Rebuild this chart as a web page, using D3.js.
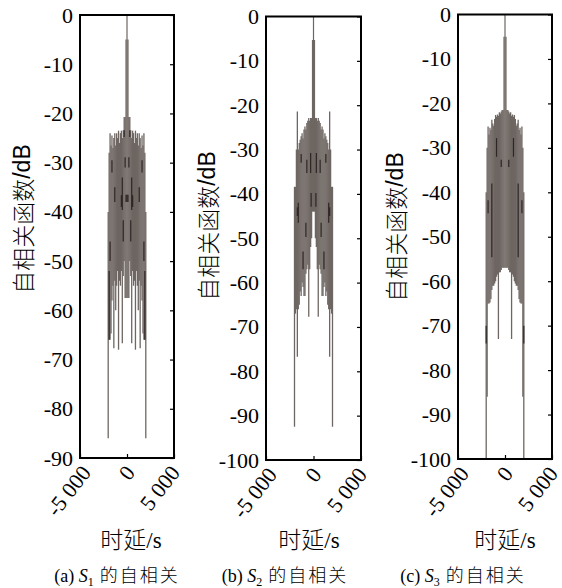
<!DOCTYPE html>
<html><head><meta charset="utf-8">
<script src="https://cdn.jsdelivr.net/npm/d3@7"></script>
<style>body{margin:0;background:#fff}</style></head><body>
<svg id="c" width="562" height="588"></svg>
<script>
// ---- data ----
const lags = [-2000,-1900,-1800,-1700,-1600,-1500,-1400,-1300,-1200,-1100,-1000,-900,-800,-700,-600,-500,-400,-300,-200,-100,0,100,200,300,400,500,600,700,800,900,1000,1100,1200,1300,1400,1500,1600,1700,1800,1900,2000];

const hiA = [-40,-28,-24,-26.5,-24.5,-27,-25,-24,-26.5,-24,-25,-23.5,-26,-24,-23.5,-25,-23.4,-20.7,-20.7,-5,0,
             -5,-20.7,-20.7,-23.4,-25,-23.5,-24,-26,-23.5,-25,-24,-26.5,-24,-25,-27,-24.5,-26.5,-24,-28,-40];
const loA = [-86,-66,-66,-64.7,-58,-55,-67.7,-54,-60,-55,-52,-68,-54,-55,-52,-66.7,-53,-50,-57.5,-57.5,-57.5,
             -57.5,-57.5,-50,-53,-66.7,-52,-55,-54,-68,-52,-55,-60,-54,-67.7,-55,-58,-64.7,-66,-66,-86];

const hiB = [-38.4,-38.4,-30,-21.4,-30,-28.5,-27.8,-27,-26.3,-27.5,-25.5,-24.8,-25.5,-24,-23.5,-22.9,-23.5,-22.9,-22.9,-5.3,0,
             -5.3,-22.9,-22.9,-23.5,-22.9,-23.5,-24,-25.5,-24.8,-25.5,-27.5,-26.3,-27,-27.8,-28.5,-30,-21.4,-30,-38.4,-38.4];
const loB = [-92.5,-67,-66,-76.7,-66,-65,-62,-63,-60,-61,-63,-63,-58,-57,-56,-67.7,-57,-52,-50,-44,-44,
             -44,-50,-52,-57,-67.7,-56,-57,-58,-63,-63,-61,-60,-63,-62,-65,-66,-76.7,-66,-67,-92.5];

const hiC = [-40,-30,-25.2,-27,-25.5,-26,-23.7,-24.5,-25,-23.5,-22.6,-23,-22.5,-22.8,-22,-22.3,-21.8,-21.5,-21.5,-5,0,
             -5,-21.5,-21.5,-21.8,-22.3,-22,-22.8,-22.5,-23,-22.6,-23.5,-25,-24.5,-23.7,-26,-25.5,-27,-25.2,-30,-40];
const loC = [-100,-86,-65,-65,-64.8,-64,-62,-61,-61,-60.5,-60,-59,-58.5,-73,-58,-58,-57.5,-57,-57,-57,-57,
             -57,-57,-57,-57.5,-58,-58,-73,-58.5,-59,-60,-60.5,-61,-61,-62,-64,-64.8,-65,-65,-86,-100];

// darker overlapping segments: [lag, top dB, bottom dB]
const darkA = [[-1900,-52,-66],[1900,-52,-66],[-1800,-46,-50],[1800,-46,-50],[-1600,-29.5,-32],[1600,-29.5,-32],
               [-1300,-35,-38],[1300,-35,-38],[-600,-36.6,-39],[600,-36.6,-39],[-500,-33,-39.6],[500,-33,-39.6],
               [-400,-41.7,-46],[400,-41.7,-46],[-300,-23.4,-24.8],[300,-23.4,-24.8],[-200,-28.9,-31],[200,-28.9,-31],
               [-100,-36.5,-38],[0,-36.5,-38],[100,-36.5,-38]];
const darkB = [[-1700,-43,-45],[1700,-43,-45],[-1600,-42,-46.5],[1600,-42,-46.5],[-1300,-31,-33],[1300,-31,-33],
               [-1100,-53,-57],[1100,-53,-57],[-800,-46.5,-49.7],[800,-46.5,-49.7],[-700,-32.3,-35.3],[700,-32.3,-35.3],
               [-300,-30.8,-35.3],[300,-30.8,-35.3],[-250,-39.8,-42.9],[250,-39.8,-42.9]];
const darkC = [[-2000,-70,-74],[2000,-70,-74],[-1800,-41.8,-44.7],[1800,-41.8,-44.7],[-1400,-38,-54.6],[1400,-38,-54.6],
               [-900,-27.8,-32],[900,-27.8,-32],[-400,-32.7,-34.3],[400,-32.7,-34.3]];

const yTicksA = [0,-10,-20,-30,-40,-50,-60,-70,-80,-90];
const yTicksBC = [0,-10,-20,-30,-40,-50,-60,-70,-80,-90,-100];
const xTicks = [-5000,0,5000];
const xTickLabels = ["-5 000","0","5 000"];
const yTitleCJK = "自相关函数", yTitleUnit = "/dB";
const xTitleCJK = "时延", xTitleUnit = "/s";
const capLetters = ["(a) ","(b) ","(c) "];
const capSubs = ["1","2","3"];
const capCJK = "的自相关";

// ---- layout ----
const panels = [
  {hi:hiA, lo:loA, dark:darkA, yt:yTicksA, ymin:-90, L:80, R:174, T:15, B:458, ytx:22, yty:219, xtx:131, cx:117},
  {hi:hiB, lo:loB, dark:darkB, yt:yTicksBC, ymin:-100, L:266, R:361, T:16.5, B:460, ytx:207, yty:226, xtx:309, cx:285},
  {hi:hiC, lo:loC, dark:darkC, yt:yTicksBC, ymin:-100, L:458, R:552, T:14.5, B:459, ytx:395, yty:227, xtx:505, cx:463}
];
const labelDx = [12, 9, 7];
const serif = "'Liberation Serif','Times New Roman',serif";
const cjk = "'Noto Sans CJK SC','Noto Sans',sans-serif";
const lineCol = "#6e6662", darkCol = "#2e2624";

const svg = d3.select("#c");
svg.append("rect").attr("width",562).attr("height",588).attr("fill","#fff");

panels.forEach((p,k)=>{
  const x = d3.scaleLinear().domain([-5000,5000]).range([p.L,p.R]);
  const y = d3.scaleLinear().domain([p.ymin,0]).range([p.B,p.T]);
  const g = svg.append("g");

  g.selectAll("line.s").data(lags).enter().append("line")
    .attr("x1",d=>x(d)).attr("x2",d=>x(d))
    .attr("y1",(d,i)=>y(p.hi[i])).attr("y2",(d,i)=>y(p.lo[i]))
    .attr("stroke",lineCol).attr("stroke-width",d=>d===0?1.2:1.3);

  g.selectAll("line.d").data(p.dark).enter().append("line")
    .attr("x1",d=>x(d[0])).attr("x2",d=>x(d[0]))
    .attr("y1",d=>y(d[1])).attr("y2",d=>y(d[2]))
    .attr("stroke",darkCol).attr("stroke-width",1.2);

  // left labels
  const ax = d3.axisLeft(y).tickValues(p.yt).tickSize(0).tickPadding(7).tickFormat(d=>String(d));
  const ga = g.append("g").attr("transform",`translate(${p.L},0)`).call(ax);
  ga.select(".domain").remove();
  ga.selectAll("text").attr("font-family",serif).attr("font-size",22).attr("fill","#000");
  // right inward ticks
  const ar = g.append("g").attr("transform",`translate(${p.R},0)`)
    .call(d3.axisLeft(y).tickValues(p.yt).tickSize(4).tickFormat(""));
  ar.select(".domain").remove();
  ar.selectAll("line").attr("stroke","#000").attr("stroke-width",1.2);
  // bottom / top inward ticks
  const ab = g.append("g").attr("transform",`translate(0,${p.B})`)
    .call(d3.axisTop(x).tickValues(xTicks).tickSize(4).tickFormat(""));
  ab.select(".domain").remove();
  ab.selectAll("line").attr("stroke","#000").attr("stroke-width",1.2);

  // frame
  g.append("rect").attr("x",p.L).attr("y",p.T).attr("width",p.R-p.L).attr("height",p.B-p.T)
    .attr("fill","none").attr("stroke","#000").attr("stroke-width",2);

  // x tick labels rotated
  xTicks.forEach((t,j)=>{
    const tx = x(t)+labelDx[j], ty = p.B+15;
    g.append("text").attr("transform",`translate(${tx},${ty}) rotate(-52)`)
      .attr("text-anchor","end").attr("font-family",serif).attr("font-size",22)
      .text(xTickLabels[j]);
  });

  // y title
  const yt = g.append("text").attr("transform",`translate(${p.ytx},${p.yty}) rotate(-90)`)
    .attr("text-anchor","middle").attr("dominant-baseline","central").attr("font-size",23);
  yt.append("tspan").attr("font-family",cjk).attr("font-weight",300).text(yTitleCJK);
  yt.append("tspan").attr("font-family","'Liberation Sans',Arial,sans-serif").text(yTitleUnit);

  // x title
  const xt = g.append("text").attr("x",p.xtx).attr("y",548).attr("text-anchor","middle").attr("font-size",23);
  xt.append("tspan").attr("font-family",cjk).attr("font-weight",300).text(xTitleCJK);
  xt.append("tspan").attr("font-family",serif).text(xTitleUnit);

  // caption
  const ct = g.append("text").attr("x",p.cx).attr("y",582).attr("text-anchor","middle").attr("font-size",18);
  ct.append("tspan").attr("font-family",serif).text(capLetters[k]);
  ct.append("tspan").attr("font-family",serif).attr("font-style","italic").text("S");
  ct.append("tspan").attr("font-family",serif).attr("font-size",12).attr("dy",4).text(capSubs[k]);
  ct.append("tspan").attr("font-family",cjk).attr("font-weight",300).attr("dy",-4).attr("letter-spacing",2).text(" "+capCJK);
});
</script>
</body></html>
